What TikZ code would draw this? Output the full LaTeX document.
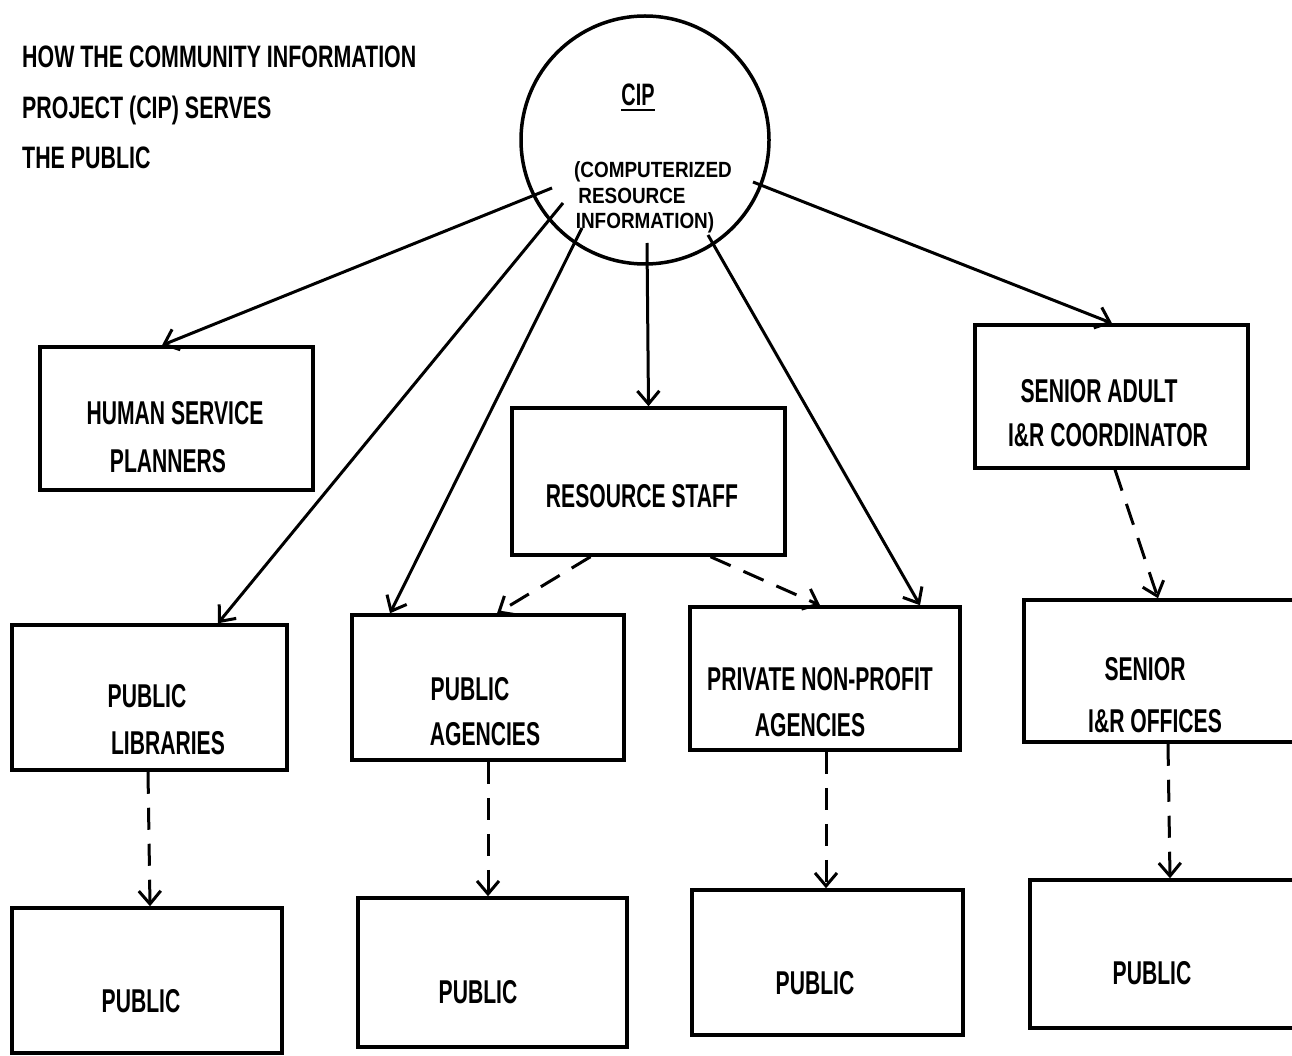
\documentclass[tikz,border=0pt]{standalone}
\usepackage{fontspec}
\newfontfamily\lettering{Liberation Sans Bold}[FakeStretch=0.64]
\newfontfamily\titlelettering{Liberation Sans Bold}[FakeStretch=0.69]
\newfontfamily\widelettering{Liberation Sans Bold}[FakeStretch=0.86]
\usetikzlibrary{arrows.meta,calc}
\begin{document}
\begin{tikzpicture}[x=1pt,y=-1pt,
  box/.style={draw, line width=3.5pt, inner sep=0pt},
  lbl/.style={font=\lettering\fontsize{33}{33}\selectfont, inner sep=0pt, anchor=base},
  ttl/.style={font=\titlelettering\fontsize{31}{31}\selectfont, inner sep=0pt, anchor=base west},
  clbl/.style={font=\widelettering\fontsize{22}{22}\selectfont, inner sep=0pt, anchor=base},
  arr/.style={line width=3pt, -{Straight Barb[length=13pt,width=22pt,line width=3pt]}},
  darr/.style={arr, dash pattern=on 22pt off 14pt}]
\useasboundingbox (0,0) rectangle (1292,1056);
\fill[white] (0,0) rectangle (1292,1056);
\clip (0,0) rectangle (1292,1056);

% title
\node[ttl] (t1) at (22,68) {HOW THE COMMUNITY INFORMATION};
\node[ttl] (t2) at (22,119) {PROJECT (CIP) SERVES};
\node[ttl] (t3) at (22,169) {THE PUBLIC};

% central circle
\node[draw, circle, line width=3.5pt, minimum size=248pt, inner sep=0pt] (cip) at (645,140) {};
\node[lbl, font=\lettering\fontsize{31}{31}\selectfont] (cipT) at (638,106) {CIP};
\draw[line width=2.5pt] ($(cipT.base west)+(0,4)$) -- ($(cipT.base east)+(0,4)$);
\node[clbl] (c1) at (653,178) {(COMPUTERIZED};
\node[clbl] (c2) at (632,204) {RESOURCE};
\node[clbl] (c3) at (645,229) {INFORMATION)};

% second tier
\node[box, minimum width=273pt, minimum height=143pt] (hsp) at (176.5,418.5) {};
\node[lbl] (hsp1) at (175,424) {HUMAN SERVICE};
\node[lbl] (hsp2) at (168,472) {PLANNERS};

\node[box, minimum width=273pt, minimum height=147pt] (rs) at (648.5,481.5) {};
\node[lbl] (rs1) at (642,507) {RESOURCE STAFF};

\node[box, minimum width=273pt, minimum height=143pt] (sa) at (1111.5,396.5) {};
\node[lbl] (sa1) at (1099,402) {SENIOR ADULT};
\node[lbl] (sa2) at (1108,446) {I\&R COORDINATOR};

% third tier
\node[box, minimum width=275pt, minimum height=145pt] (pl) at (149.5,697.5) {};
\node[lbl] (pl1) at (147,707) {PUBLIC};
\node[lbl] (pl2) at (168,754) {LIBRARIES};

\node[box, minimum width=272pt, minimum height=145pt] (pa) at (488,687.5) {};
\node[lbl] (pa1) at (470,700) {PUBLIC};
\node[lbl] (pa2) at (485,745) {AGENCIES};

\node[box, minimum width=270pt, minimum height=143pt] (pnp) at (825,678.5) {};
\node[lbl] (pnp1) at (820,690) {PRIVATE NON-PROFIT};
\node[lbl] (pnp2) at (810,736) {AGENCIES};

\node[box, minimum width=296pt, minimum height=142pt] (sio) at (1172,671) {};
\node[lbl] (sio1) at (1145,680) {SENIOR};
\node[lbl] (sio2) at (1155,732) {I\&R OFFICES};

% bottom tier
\node[box, minimum width=270pt, minimum height=145pt] (pub1) at (147,980.5) {};
\node[lbl] (pub1t) at (141,1012) {PUBLIC};
\node[box, minimum width=269pt, minimum height=149pt] (pub2) at (492.5,972.5) {};
\node[lbl] (pub2t) at (478,1003) {PUBLIC};
\node[box, minimum width=271pt, minimum height=145pt] (pub3) at (827.5,962.5) {};
\node[lbl] (pub3t) at (815,994) {PUBLIC};
\node[box, minimum width=290pt, minimum height=148pt] (pub4) at (1175,954) {};
\node[lbl] (pub4t) at (1152,984) {PUBLIC};

% solid connectors from the circle
\draw[arr] ($(cip)+(-93,48)$) -- ($(hsp.north)+(-14.5,0)$);
\draw[arr] ($(cip)+(-82,63)$) -- ($(pl.north)+(68.5,0)$);
\draw[arr] ($(cip)+(-63,88)$) -- ($(pa.north)+(-98,0)$);
\draw[arr] ($(cip)+(2,103)$) -- ($(rs.north)+(0,0)$);
\draw[arr] ($(cip)+(63,95)$) -- ($(pnp.north)+(95,0)$);
\draw[arr] ($(cip)+(108,42)$) -- ($(sa.north)+(0.5,0)$);

% dashed connectors
\draw[darr] ($(rs.south)+(-58,0)$) -- ($(pa.north)+(9,0)$);
\draw[darr] ($(rs.south)+(62,0)$) -- ($(pnp.north)+(-5,0)$);
\draw[darr] ($(sa.south)+(3.5,0)$) -- ($(sio.north)+(-14,0)$);
\draw[darr] ($(pl.south)+(-1.5,0)$) -- ($(pub1.north)+(3,0)$);
\draw[darr] (pa.south) -- ($(pub2.north)+(-4.5,0)$);
\draw[darr] ($(pnp.south)+(1,0)$) -- ($(pub3.north)+(-1.5,0)$);
\draw[darr] ($(sio.south)+(-4,0)$) -- ($(pub4.north)+(-5,0)$);
\end{tikzpicture}
\end{document}
